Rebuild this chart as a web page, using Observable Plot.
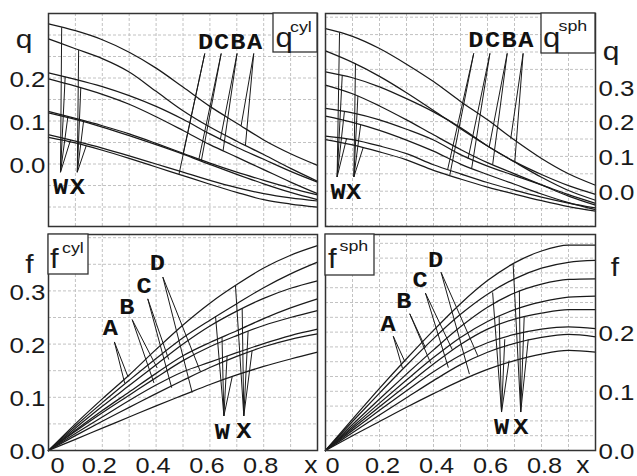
<!DOCTYPE html>
<html><head><meta charset="utf-8">
<script src="https://cdn.jsdelivr.net/npm/d3@7"></script>
<script src="https://cdn.jsdelivr.net/npm/@observablehq/plot@0.6"></script>
<style>
body{margin:0;background:#fff;}
#chart{position:relative;width:637px;height:476px;overflow:hidden;background:#fff;}
#chart svg{position:absolute;left:0;top:0;}
</style></head><body><div id="chart"></div>
<script>
// sample positions along x
const xs = [0,0.1,0.2,0.3,0.4,0.5,0.6,0.7,0.8,0.9,1.0];

// ---- q^cyl (top left)
const qCyl_AW = [0.326,0.310,0.289,0.260,0.223,0.179,0.134,0.095,0.056,0.024,-0.003];
const qCyl_AX = [0.291,0.268,0.245,0.214,0.169,0.124,0.086,0.053,0.022,-0.010,-0.040];
const qCyl_BW = [0.212,0.197,0.180,0.159,0.134,0.104,0.070,0.039,0.011,-0.017,-0.042];
const qCyl_BX = [0.198,0.181,0.162,0.139,0.110,0.078,0.045,0.016,-0.013,-0.042,-0.069];
const qCyl_CW = [0.122,0.106,0.089,0.070,0.048,0.025,0.002,-0.019,-0.038,-0.056,-0.072];
const qCyl_CX = [0.119,0.104,0.086,0.066,0.045,0.023,-0.001,-0.024,-0.046,-0.066,-0.083];
const qCyl_DW = [0.068,0.053,0.037,0.019,0.000,-0.019,-0.038,-0.055,-0.069,-0.079,-0.086];
const qCyl_DX = [0.062,0.049,0.032,0.013,-0.007,-0.027,-0.047,-0.066,-0.083,-0.093,-0.100];

// ---- q^sph (top right)
const qSph_AW = [0.467,0.445,0.410,0.365,0.315,0.258,0.205,0.147,0.094,0.050,0.017];
const qSph_AX = [0.403,0.370,0.330,0.283,0.232,0.180,0.130,0.084,0.040,0.002,-0.026];
const qSph_BW = [0.343,0.326,0.300,0.266,0.228,0.183,0.130,0.085,0.048,0.016,-0.009];
const qSph_BX = [0.305,0.280,0.245,0.205,0.162,0.120,0.082,0.050,0.018,-0.014,-0.040];
const qSph_CW = [0.238,0.225,0.205,0.178,0.147,0.105,0.072,0.045,0.018,-0.010,-0.035];
const qSph_CX = [0.216,0.198,0.175,0.147,0.115,0.078,0.048,0.020,-0.008,-0.033,-0.053];
const qSph_DW = [0.158,0.148,0.130,0.108,0.076,0.050,0.025,0.003,-0.017,-0.034,-0.048];
const qSph_DX = [0.148,0.133,0.113,0.090,0.060,0.035,0.012,-0.008,-0.027,-0.044,-0.057];

// ---- f^cyl (bottom left)
const fCyl_AX = [0,0.050,0.097,0.142,0.190,0.236,0.277,0.312,0.343,0.367,0.385];
const fCyl_AW = [0,0.046,0.090,0.132,0.173,0.212,0.245,0.276,0.306,0.332,0.354];
const fCyl_BX = [0,0.042,0.083,0.122,0.161,0.200,0.234,0.262,0.286,0.305,0.319];
const fCyl_BW = [0,0.038,0.075,0.110,0.145,0.178,0.203,0.225,0.248,0.268,0.285];
const fCyl_CX = [0,0.036,0.071,0.104,0.137,0.169,0.195,0.216,0.235,0.250,0.263];
const fCyl_CW = [0,0.032,0.063,0.094,0.123,0.148,0.166,0.184,0.201,0.216,0.228];
const fCyl_DX = [0,0.028,0.055,0.081,0.107,0.132,0.156,0.177,0.195,0.209,0.219];
const fCyl_DW = [0,0.021,0.042,0.063,0.084,0.104,0.124,0.142,0.158,0.172,0.185];

// ---- f^sph (bottom right)
const fSph_AX = [0,0.053,0.105,0.155,0.203,0.248,0.287,0.317,0.337,0.347,0.347];
const fSph_AW = [0,0.049,0.097,0.144,0.189,0.230,0.264,0.290,0.308,0.318,0.321];
const fSph_BX = [0,0.044,0.087,0.129,0.170,0.209,0.242,0.266,0.281,0.289,0.290];
const fSph_BW = [0,0.040,0.080,0.119,0.157,0.191,0.218,0.238,0.251,0.259,0.261];
const fSph_CX = [0,0.037,0.074,0.110,0.146,0.179,0.205,0.222,0.232,0.238,0.238];
const fSph_CW = [0,0.034,0.068,0.101,0.133,0.161,0.182,0.196,0.205,0.209,0.206];
const fSph_DX = [0,0.030,0.060,0.089,0.118,0.145,0.166,0.181,0.191,0.196,0.192];
const fSph_DW = [0,0.025,0.049,0.073,0.096,0.118,0.137,0.152,0.163,0.169,0.166];

// ---- leader lines [x1, y1, x2, y2] in data units
const qCylLeaders = [
  [0.763,0.257,0.716,0.089],[0.763,0.257,0.732,0.043],
  [0.701,0.257,0.639,0.058],[0.701,0.257,0.649,0.031],
  [0.642,0.257,0.559,0.011],[0.642,0.257,0.568,0.007],
  [0.581,0.257,0.485,-0.024],[0.581,0.257,0.500,0.023],
  [0.0446,-0.019,0.049,0.318],[0.0446,-0.019,0.062,0.203],[0.0446,-0.019,0.072,0.110],[0.0446,-0.019,0.082,0.056],
  [0.107,-0.019,0.112,0.265],[0.107,-0.019,0.120,0.177],[0.107,-0.019,0.130,0.098],[0.107,-0.019,0.140,0.042]
];
const qSphLeaders = [
  [0.732,0.396,0.686,0.151],[0.732,0.396,0.701,0.083],
  [0.673,0.396,0.606,0.126],[0.673,0.396,0.619,0.076],
  [0.609,0.396,0.528,0.093],[0.609,0.396,0.541,0.064],
  [0.549,0.396,0.452,0.061],[0.549,0.396,0.460,0.045],
  [0.043,0.041,0.052,0.456],[0.043,0.041,0.062,0.333],[0.043,0.041,0.070,0.228],[0.043,0.041,0.078,0.151],
  [0.105,0.041,0.111,0.367],[0.105,0.041,0.120,0.274],[0.105,0.041,0.130,0.190],[0.105,0.041,0.139,0.124]
];
const fCylLeaders = [
  [0.245,0.204,0.283,0.127],[0.245,0.204,0.296,0.138],
  [0.311,0.246,0.392,0.127],[0.311,0.246,0.404,0.155],
  [0.369,0.285,0.447,0.171],[0.369,0.285,0.458,0.118],
  [0.425,0.326,0.534,0.109],[0.425,0.326,0.565,0.148],
  [0.652,0.065,0.621,0.252],[0.652,0.065,0.645,0.213],[0.652,0.065,0.664,0.178],[0.652,0.065,0.683,0.139],
  [0.726,0.065,0.695,0.310],[0.726,0.065,0.720,0.267],[0.726,0.065,0.742,0.224],[0.726,0.065,0.757,0.188]
];
const fSphLeaders = [
  [0.251,0.193,0.285,0.139],[0.251,0.193,0.294,0.150],
  [0.312,0.231,0.390,0.147],[0.312,0.231,0.370,0.174],
  [0.370,0.266,0.455,0.140],[0.370,0.266,0.470,0.170],
  [0.428,0.301,0.533,0.129],[0.428,0.301,0.564,0.160],
  [0.652,0.065,0.619,0.267],[0.652,0.065,0.643,0.227],[0.652,0.065,0.664,0.188],[0.652,0.065,0.680,0.152],
  [0.723,0.065,0.695,0.315],[0.723,0.065,0.718,0.270],[0.723,0.065,0.736,0.227],[0.723,0.065,0.751,0.188]
];

// ---- curve letter labels [text, x, y]
const qCylLabels = [["D",0.584,0.283],["C",0.643,0.283],["B",0.704,0.283],["A",0.766,0.283],["W",0.0446,-0.054],["X",0.107,-0.054]];
const qSphLabels = [["D",0.557,0.435],["C",0.619,0.435],["B",0.680,0.435],["A",0.742,0.435],["W",0.047,-0.002],["X",0.104,-0.002]];
const fCylLabels = [["A",0.230,0.231],["B",0.291,0.270],["C",0.355,0.309],["D",0.405,0.352],["W",0.646,0.035],["X",0.726,0.036]];
const fSphLabels = [["A",0.232,0.214],["B",0.290,0.253],["C",0.350,0.288],["D",0.408,0.322],["W",0.652,0.039],["X",0.723,0.039]];

// ---- tick labels
const qCylTicks = [0, 0.1, 0.2];
const qSphTicks = [0, 0.1, 0.2, 0.3];
const fCylTicks = [0, 0.1, 0.2, 0.3];
const fSphTicks = [0, 0.1, 0.2];
const xTickVals = [0, 0.2, 0.4, 0.6, 0.8, 1.0];
const xTickText = ["0", "0.2", "0.4", "0.6", "0.8", "x"];

const W = 637, H = 476;
const INK = "#1a1a1a";
const SANS = "Liberation Sans, Arial, sans-serif";
const MONO = "Liberation Mono, Courier New, monospace";

function titleMark(tc) {
  return (index, scales, values, dims) => {
    const bx = tc.corner === "right" ? dims.width - dims.marginRight - tc.bw : dims.marginLeft;
    const by = dims.marginTop;
    const g = d3.create("svg:g");
    g.append("rect").attr("x", bx).attr("y", by).attr("width", tc.bw).attr("height", tc.bh)
      .attr("fill", "white").attr("stroke", "#333").attr("stroke-width", 1.3);
    g.append("text").attr("x", bx + tc.mainAt[0]).attr("y", by + tc.mainAt[1])
      .attr("font-size", 27).attr("text-anchor", "start").attr("fill", INK).text(tc.main);
    g.append("text").attr("x", bx + tc.supAt[0]).attr("y", by + tc.supAt[1])
      .attr("font-size", 15.5).attr("text-anchor", "start").attr("fill", INK).text(tc.sup);
    return g.node();
  };
}

function panel(p) {
  const rows = p.series.flatMap(([name, vals]) => vals.map((v, i) => ({x: xs[i], y: v, s: name})));
  const links = p.leaders.map(([x1, y1, x2, y2]) => ({x1, y1, x2, y2}));
  const left = p.side === "left";
  const marks = [
    Plot.gridX({ticks: d3.range(0, 11).map(k => k / 10), stroke: "#c2c2c2", strokeOpacity: 1, strokeDasharray: "3,2"}),
    Plot.gridY({ticks: p.yGrid, stroke: "#c2c2c2", strokeOpacity: 1, strokeDasharray: "3,2"}),
    Plot.line(rows, {x: "x", y: "y", z: "s", curve: "monotone-x", stroke: INK, strokeWidth: 1.25}),
    Plot.link(links, {x1: "x1", y1: "y1", x2: "x2", y2: "y2", stroke: INK, strokeWidth: 1}),
    Plot.frame({stroke: "#333", strokeWidth: 1.5}),
    titleMark(p.title),
    Plot.text(p.labels, {x: d => d[1], y: d => d[2], text: d => d[0], fontFamily: MONO, fontWeight: "bold",
      fontSize: 22, lineAnchor: "middle", fill: "#111"}),
    Plot.text(p.yTicks, {y: d => d, text: d => d.toFixed(1), frameAnchor: p.side,
      textAnchor: left ? "end" : "start", dx: left ? -3 : 3, dy: 1.5, fontSize: 22.5, lineAnchor: "middle", fill: INK}),
    Plot.text([p.axisLetter], {y: d => d.y, text: d => d.t, frameAnchor: p.side, textAnchor: "middle",
      dx: p.axisLetter.dx, fontSize: 26, lineAnchor: "bottom", fill: INK})
  ];
  if (p.xLabels) {
    const xl = xTickVals.map((v, i) => ({v, t: xTickText[i]}));
    marks.push(
      Plot.text(xl.slice(0, 1), {x: "v", text: "t", frameAnchor: "bottom", dy: 22, dx: p.x0dx, lineAnchor: "bottom", textAnchor: "start", fontSize: 22, fill: INK}),
      Plot.text(xl.slice(1, 5), {x: "v", text: "t", frameAnchor: "bottom", dy: 22, dx: p.xMidDx, lineAnchor: "bottom", textAnchor: "middle", fontSize: 22, fill: INK}),
      Plot.text(xl.slice(5), {x: "v", text: "t", frameAnchor: "bottom", dy: 22, dx: p.xEndDx, lineAnchor: "bottom", textAnchor: "end", fontSize: 23, fill: INK})
    );
  }
  const [l, r, t, b] = p.frame;
  return Plot.plot({
    width: W, height: H,
    marginLeft: l, marginRight: W - r, marginTop: t, marginBottom: H - b,
    x: {domain: [0, 1], axis: null},
    y: {domain: p.ydomain, axis: null},
    style: {background: "transparent", fontFamily: SANS, overflow: "visible"},
    marks
  });
}

const grid05 = (a, b) => d3.range(a, b + 1).map(k => +(k * 0.05).toFixed(3));
const grid025 = (a, b) => d3.range(a, b + 1).map(k => +(k * 0.025).toFixed(3));

const panels = [
  {
    frame: [48, 317, 13, 226], ydomain: [-0.1453, 0.35], yGrid: grid05(-2, 7), side: "left",
    series: [["AW", qCyl_AW], ["AX", qCyl_AX], ["BW", qCyl_BW], ["BX", qCyl_BX], ["CW", qCyl_CW], ["CX", qCyl_CX], ["DW", qCyl_DW], ["DX", qCyl_DX]],
    leaders: qCylLeaders, labels: qCylLabels, yTicks: qCylTicks,
    axisLetter: {t: "q", y: 0.27, dx: -24.5},
    title: {corner: "right", bw: 44, bh: 39, main: "q", mainAt: [2.5, 34], sup: "cyl", supAt: [17, 19]}
  },
  {
    frame: [325, 595, 13, 226], ydomain: [-0.1014, 0.5106], yGrid: grid05(-2, 10), side: "right",
    series: [["AW", qSph_AW], ["AX", qSph_AX], ["BW", qSph_BW], ["BX", qSph_BX], ["CW", qSph_CW], ["CX", qSph_CX], ["DW", qSph_DW], ["DX", qSph_DX]],
    leaders: qSphLeaders, labels: qSphLabels, yTicks: qSphTicks,
    axisLetter: {t: "q", y: 0.376, dx: 15.5},
    title: {corner: "right", bw: 54, bh: 40, main: "q", mainAt: [2, 34], sup: "sph", supAt: [17.5, 18]}
  },
  {
    frame: [48, 317, 234, 450], ydomain: [0, 0.406], yGrid: grid05(0, 8), side: "left",
    series: [["AW", fCyl_AW], ["AX", fCyl_AX], ["BW", fCyl_BW], ["BX", fCyl_BX], ["CW", fCyl_CW], ["CX", fCyl_CX], ["DW", fCyl_DW], ["DX", fCyl_DX]],
    leaders: fCylLeaders, labels: fCylLabels, yTicks: fCylTicks,
    axisLetter: {t: "f", y: 0.334, dx: -19},
    title: {corner: "left", bw: 40, bh: 40, main: "f", mainAt: [2, 34], sup: "cyl", supAt: [14, 19]},
    xLabels: true, x0dx: 2, xMidDx: -3, xEndDx: 0
  },
  {
    frame: [325, 595, 234, 450], ydomain: [0, 0.3649], yGrid: grid025(0, 14), side: "right",
    series: [["AW", fSph_AW], ["AX", fSph_AX], ["BW", fSph_BW], ["BX", fSph_BX], ["CW", fSph_CW], ["CX", fSph_CX], ["DW", fSph_DW], ["DX", fSph_DX]],
    leaders: fSphLeaders, labels: fSphLabels, yTicks: fSphTicks,
    axisLetter: {t: "f", y: 0.295, dx: 19.5},
    title: {corner: "left", bw: 49, bh: 41, main: "f", mainAt: [3, 34], sup: "sph", supAt: [14.5, 17]},
    xLabels: true, x0dx: 0, xMidDx: 3, xEndDx: -6
  }
];

const chart = document.getElementById("chart");
for (const p of panels) chart.appendChild(panel(p));

// the reference lettering is horizontally wide: stretch glyphs a little
for (const t of chart.querySelectorAll("text")) {
  const L = t.getComputedTextLength();
  if (L > 0) {
    t.setAttribute("textLength", (L * 1.15).toFixed(2));
    t.setAttribute("lengthAdjust", "spacingAndGlyphs");
  }
}
</script></body></html>
